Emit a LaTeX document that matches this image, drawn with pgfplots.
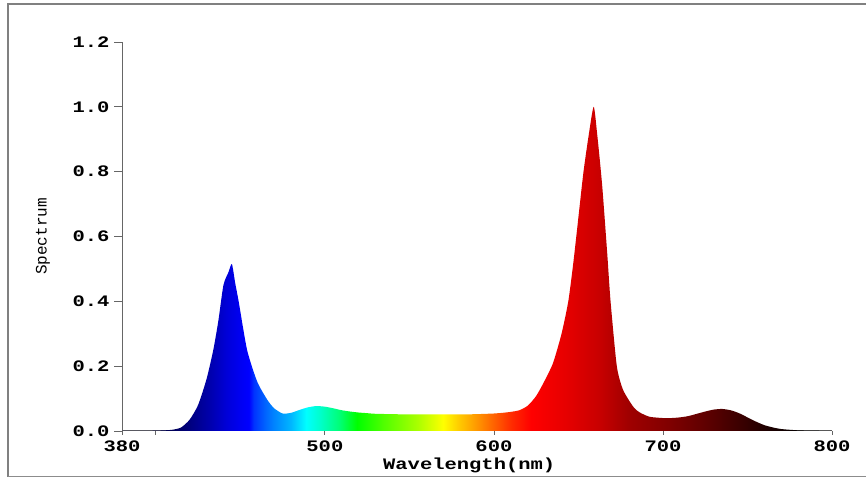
\documentclass[border=0pt]{standalone}
\usepackage{fontspec}
\usepackage{pgfplots}
\pgfplotsset{compat=1.18}
\newfontfamily\tickfont[FakeStretch=1.28]{Liberation Mono}
\newfontfamily\labelfont{Liberation Mono}

\pgfdeclarehorizontalshading{spectrum}{100bp}{%
rgb(0bp)=(0,0,0.25);
rgb(25bp)=(0,0,0.25);
rgb(28.571bp)=(0,0,0.35);
rgb(29.762bp)=(0,0,0.5);
rgb(31.190bp)=(0,0,0.68);
rgb(32.381bp)=(0,0,0.85);
rgb(33.333bp)=(0,0,0.95);
rgb(33.929bp)=(0,0,1);
rgb(34.286bp)=(0,0.2,1);
rgb(35.119bp)=(0,0.4,1);
rgb(35.714bp)=(0,0.52,1);
rgb(36.905bp)=(0,0.72,1);
rgb(37.976bp)=(0,1,1);
rgb(38.929bp)=(0,1,0.8);
rgb(40.357bp)=(0,1,0.45);
rgb(41.548bp)=(0,1,0);
rgb(43.452bp)=(0.32,1,0);
rgb(45.833bp)=(0.67,1,0);
rgb(47.619bp)=(1,1,0);
rgb(48.810bp)=(1,0.78,0);
rgb(50bp)=(1,0.59,0);
rgb(51.190bp)=(1,0.38,0);
rgb(52.5bp)=(1,0.16,0);
rgb(53.810bp)=(1,0,0);
rgb(56.310bp)=(0.9,0,0);
rgb(58.690bp)=(0.78,0,0);
rgb(60.595bp)=(0.63,0,0);
rgb(63.333bp)=(0.51,0,0);
rgb(65.714bp)=(0.39,0,0);
rgb(67.143bp)=(0.31,0,0);
rgb(69.048bp)=(0.2,0,0);
rgb(70.357bp)=(0.12,0,0);
rgb(72.619bp)=(0.02,0,0);
rgb(75bp)=(0,0,0);
rgb(100bp)=(0,0,0)}

\pgfplotstableread{
x y
380 0
390 0
400 0.001
405 0.002
410 0.004
415 0.011
420 0.035
425 0.08
430 0.16
434 0.25
437 0.34
440 0.45
443 0.49
445 0.515
447 0.455
449 0.40
454 0.25
460 0.152
466 0.096
470 0.07
475 0.054
480 0.056
485 0.065
490 0.073
495 0.077
500 0.075
505 0.07
510 0.064
515 0.06
520 0.057
525 0.055
530 0.053
540 0.052
550 0.051
560 0.051
570 0.051
580 0.051
590 0.052
600 0.054
605 0.056
610 0.059
615 0.064
620 0.078
625 0.108
630 0.155
635 0.21
640 0.30
644 0.40
647 0.52
650 0.66
653 0.80
656 0.91
659 1.0
661 0.92
664 0.76
667 0.55
669 0.40
672.7 0.20
676.4 0.127
682.4 0.075
686 0.058
692 0.044
700 0.040
705 0.040
710 0.042
715 0.046
720 0.053
725 0.06
730 0.066
735 0.068
740 0.064
745 0.055
750 0.042
755 0.029
760 0.018
765 0.011
770 0.006
780 0.002
790 0.001
800 0
}\spec

\begin{document}
\begin{tikzpicture}[x=1pt,y=1pt]
\useasboundingbox (0,0) rectangle (866,478);
\draw[black!50, line width=1.2pt] (8,1) -- (8,474) -- (866,474);
\draw[black!45, line width=1pt] (8,1) -- (866,1);
\begin{axis}[
  at={(122pt,47pt)}, anchor=south west,
  scale only axis, width=710pt, height=389pt,
  xmin=380, xmax=800, ymin=0, ymax=1.2,
  axis lines=left,
  axis line style={-, draw=black!60, line width=1pt},
  xtick={380,400,500,600,700,800},
  xticklabels={380,,500,600,700,800},
  ytick={0,0.2,0.4,0.6,0.8,1.0,1.2},
  yticklabel style={/pgf/number format/fixed, /pgf/number format/fixed zerofill, /pgf/number format/precision=1, xshift=-1pt},
  xticklabel style={yshift=2pt},
  tick align=outside,
  major tick length=8pt,
  xtick style={/pgfplots/major tick length=4pt},
  tick style={draw=black!60, line width=0.8pt},
  /pgf/number format/assume math mode=true,
  ticklabel style={font=\tickfont\bfseries\fontsize{16}{16}\selectfont},
  xlabel={\tickfont\bfseries\fontsize{16}{16}\selectfont Wavelength(nm)},
  xlabel style={at={(axis description cs:0.489,0)}, anchor=center, yshift=-34pt},
  ylabel={\labelfont\fontsize{16}{16}\selectfont Spectrum},
  ylabel style={at={(axis description cs:0,0.5)}, anchor=center, yshift=79pt},
]
\addplot[draw=none, shading=spectrum, smooth, tension=0.4] table[x=x, y=y] {\spec} \closedcycle;
\end{axis}
\end{tikzpicture}
\end{document}
